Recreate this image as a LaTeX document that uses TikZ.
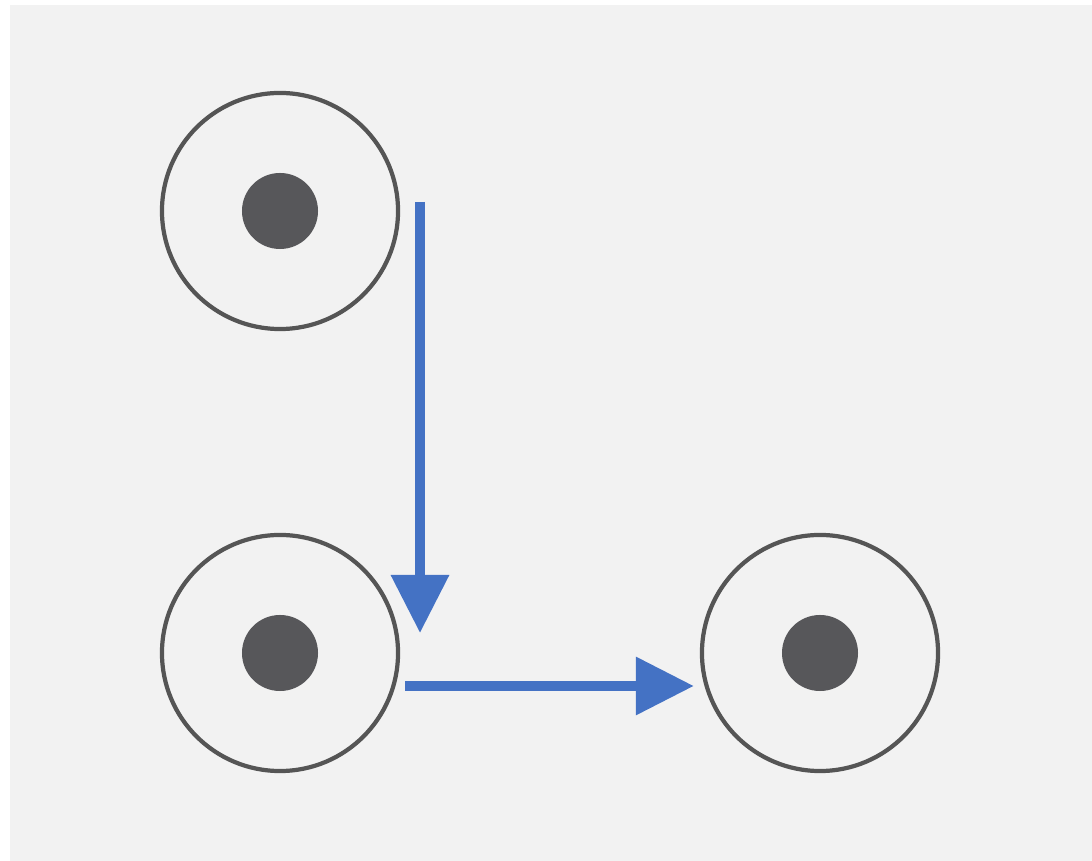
\documentclass[tikz,border=0pt]{standalone}
\usepackage{tikz}
\usetikzlibrary{arrows.meta,positioning,calc}
\definecolor{Paper}{HTML}{F2F2F2}
\definecolor{Ring}{HTML}{555555}
\definecolor{Pip}{HTML}{57575A}
\definecolor{Blue}{HTML}{4472C4}
\tikzset{
  ring/.style={circle,draw=Ring,line width=3pt,fill=none,minimum size=5.9cm,inner sep=0pt},
  pip/.style={circle,fill=Pip,minimum size=1.9cm,inner sep=0pt},
  flowArrow/.style={-{Triangle[length=1.45cm,width=1.4cm]},line width=7pt,draw=Blue}
}
\begin{document}
\begin{tikzpicture}[x=0.025cm,y=0.025cm]
\fill[white] (0,0) rectangle (1092,861);
\fill[Paper] (10,0) rectangle (1092,856);
\useasboundingbox (0,0) rectangle (1092,861);
\node[ring] (tl) at (280,650) {};
\node[ring] (bl) at (280,208) {};
\node[ring] (br) at (820,208) {};
\node[pip] (tldot) at (tl) {};
\node[pip] (bldot) at (bl) {};
\node[pip] (brdot) at (br) {};
\coordinate (vtop) at ($(tl.center)+(140,9)$);
\coordinate (vend) at ($(bl.center)+(140,20)$);
\coordinate (hstart) at ($(bl.east)+(5,-33)$);
\coordinate (hend) at ($(br.west)+(-6,-33)$);
\draw[flowArrow] (vtop)--(vend);
\draw[flowArrow] (hstart)--(hend);
\end{tikzpicture}
\end{document}
